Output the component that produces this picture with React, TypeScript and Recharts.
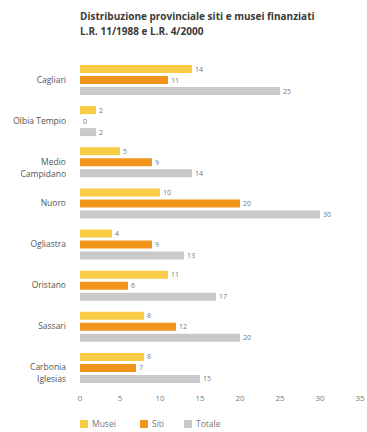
import { BarChart, Bar, XAxis, YAxis, LabelList } from "recharts";

const provinces = [
  "Cagliari",
  "Olbia Tempio",
  "Medio Campidano",
  "Nuoro",
  "Ogliastra",
  "Oristano",
  "Sassari",
  "Carbonia Iglesias",
];
const musei = [14, 2, 5, 10, 4, 11, 8, 8];
const siti = [11, 0, 9, 20, 9, 6, 12, 7];
const totale = [25, 2, 14, 30, 13, 17, 20, 15];
const xTicks = [0, 5, 10, 15, 20, 25, 30, 35];

// labels that break onto two lines
const lineBreaks: Record<string, string[]> = {
  "Medio Campidano": ["Medio", "Campidano"],
  "Carbonia Iglesias": ["Carbonia", "Iglesias"],
};

const data = provinces.map((p, i) => ({
  name: p,
  musei: musei[i],
  siti: siti[i],
  totale: totale[i],
}));

const FONT = "'Open Sans', sans-serif";
const C_MUSEI = "#F8CC45";
const C_SITI = "#F2951C";
const C_TOT = "#C9C9C9";

function ProvinceTick(props: any) {
  const { x, y, payload } = props;
  const lines = lineBreaks[payload.value] ?? [payload.value];
  return (
    <g>
      {lines.map((l, i) => (
        <text
          key={i}
          x={x - 6}
          y={y + i * 12}
          dy={3}
          textAnchor="end"
          fontSize={8.5}
          fill="#555"
          fontFamily={FONT}
        >
          {l}
        </text>
      ))}
    </g>
  );
}

// value label drawn even when the bar has zero length
function ValueLabel(props: any) {
  const { x, y, width, height, value } = props;
  return (
    <text
      x={Number(x) + Number(width) + 3}
      y={Number(y) + Number(height) / 2}
      dy={2.5}
      fontSize={7}
      fill="#777"
      fontFamily={FONT}
    >
      {String(value)}
    </text>
  );
}

const legendItems = [
  { label: "Musei", color: C_MUSEI, left: 80 },
  { label: "Siti", color: C_SITI, left: 140 },
  { label: "Totale", color: C_TOT, left: 184 },
];

export default function App() {
  return (
    <div
      style={{
        position: "absolute",
        left: 0,
        top: 0,
        width: 367,
        height: 432,
        background: "#fff",
        overflow: "hidden",
        fontFamily: FONT,
      }}
    >
      <div
        style={{
          position: "absolute",
          left: 80,
          top: 9,
          fontSize: 10,
          fontWeight: 700,
          color: "#3a3a3a",
          lineHeight: "15px",
          whiteSpace: "nowrap",
        }}
      >
        <div>Distribuzione provinciale siti e musei finanziati</div>
        <div>L.R. 11/1988 e L.R. 4/2000</div>
      </div>
      <BarChart
        width={367}
        height={432}
        data={data}
        layout="vertical"
        margin={{ top: 59, right: 7, bottom: 24, left: 0 }}
        barSize={8}
        barGap={3}
      >
        <XAxis
          type="number"
          domain={[0, 35]}
          ticks={xTicks}
          axisLine={false}
          tickLine={false}
          tickMargin={1}
          height={20}
          tick={{ fontSize: 8, fill: "#777", fontFamily: FONT }}
        />
        <YAxis
          type="category"
          dataKey="name"
          width={80}
          axisLine={false}
          tickLine={false}
          tick={<ProvinceTick />}
        />
        <Bar dataKey="musei" fill={C_MUSEI} isAnimationActive={false}>
          <LabelList dataKey="musei" content={<ValueLabel />} />
        </Bar>
        <Bar dataKey="siti" fill={C_SITI} minPointSize={0.01} isAnimationActive={false}>
          <LabelList dataKey="siti" content={<ValueLabel />} />
        </Bar>
        <Bar dataKey="totale" fill={C_TOT} isAnimationActive={false}>
          <LabelList dataKey="totale" content={<ValueLabel />} />
        </Bar>
      </BarChart>
      {legendItems.map((it) => (
        <div
          key={it.label}
          style={{
            position: "absolute",
            left: it.left,
            top: 418,
            display: "flex",
            alignItems: "center",
            fontSize: 8.5,
            lineHeight: "12px",
            color: "#777",
          }}
        >
          <span style={{ width: 8, height: 8, background: it.color, marginRight: 4, display: "inline-block" }} />
          {it.label}
        </div>
      ))}
    </div>
  );
}
